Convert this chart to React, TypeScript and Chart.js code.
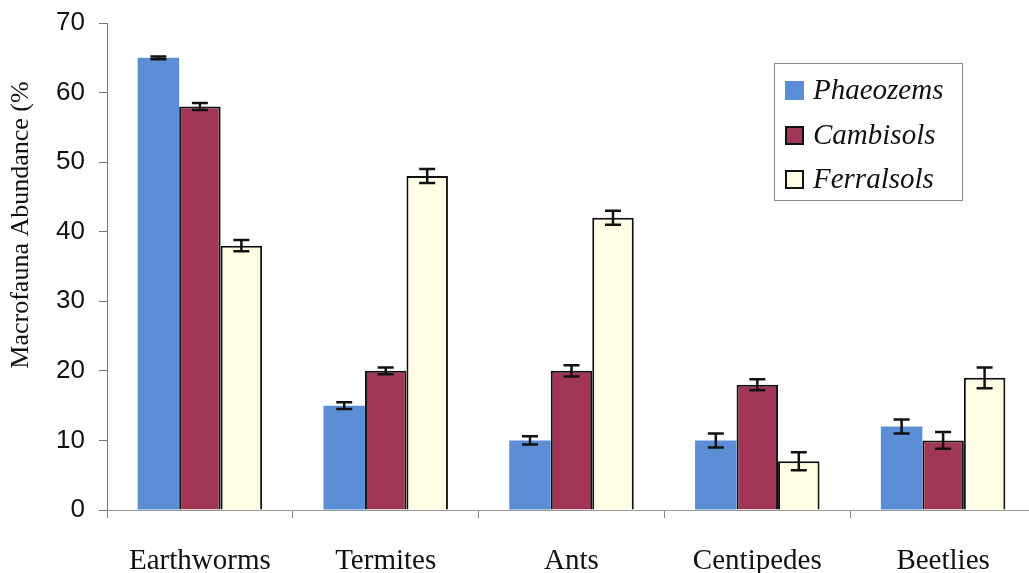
import React, { useEffect, useRef } from "react";
import { Chart, registerables } from "chart.js";

Chart.register(...registerables);

const categories = ["Earthworms", "Termites", "Ants", "Centipedes", "Beetlies"];
const seriesNames = ["Phaeozems", "Cambisols", "Ferralsols"];
const phaeozems = [65, 15, 10, 10, 12];
const cambisols = [58, 20, 20, 18, 10];
const ferralsols = [38, 48, 42, 7, 19];
const phaeozemsErr = [0.2, 0.5, 0.6, 1.0, 1.0];
const cambisolsErr = [0.5, 0.5, 0.8, 0.8, 1.2];
const ferralsolsErr = [0.8, 1.0, 1.0, 1.3, 1.5];
const yTicks = [0, 10, 20, 30, 40, 50, 60, 70];
const yTitle = "Macrofauna Abundance (%";

const colors = ["#5b8ed5", "#a13656", "#fffde4"];
const borders = ["#5b8ed5", "#111111", "#111111"];
const borderWidths = [0, 2, 2];
const errors = [phaeozemsErr, cambisolsErr, ferralsolsErr];

const errorBarPlugin = {
  id: "errorBars",
  afterDatasetsDraw(chart: any) {
    const ctx = chart.ctx;
    const yScale = chart.scales.y;
    ctx.save();
    ctx.strokeStyle = "#111";
    ctx.lineWidth = 2.5;
    chart.data.datasets.forEach((ds: any, di: number) => {
      const meta = chart.getDatasetMeta(di);
      meta.data.forEach((el: any, i: number) => {
        const v = ds.data[i];
        const e = errors[di][i];
        const yt = yScale.getPixelForValue(v + e);
        const yb = yScale.getPixelForValue(v - e);
        const x = el.x;
        const cap = 8;
        ctx.beginPath();
        ctx.moveTo(x, yt);
        ctx.lineTo(x, yb);
        ctx.moveTo(x - cap, yt);
        ctx.lineTo(x + cap, yt);
        ctx.moveTo(x - cap, yb);
        ctx.lineTo(x + cap, yb);
        ctx.stroke();
      });
    });
    ctx.restore();
  },
};

const decorPlugin = {
  id: "decor",
  afterDraw(chart: any) {
    const ctx = chart.ctx;
    ctx.save();
    ctx.translate(21, 225);
    ctx.rotate(-Math.PI / 2);
    ctx.font = '26px "Liberation Serif", "Times New Roman", serif';
    ctx.fillStyle = "#111";
    ctx.textAlign = "center";
    ctx.textBaseline = "middle";
    ctx.fillText(yTitle, 0, 0);
    ctx.restore();

    ctx.save();
    const lx = 774, ly = 63, lw = 188, lh = 137;
    ctx.fillStyle = "#ffffff";
    ctx.fillRect(lx, ly, lw, lh);
    ctx.strokeStyle = "#8a8a8a";
    ctx.lineWidth = 1;
    ctx.strokeRect(lx + 0.5, ly + 0.5, lw, lh);
    const rows = [90, 135, 179];
    ctx.font = 'italic 29px "Liberation Serif", "Times New Roman", serif';
    ctx.textBaseline = "middle";
    ctx.textAlign = "left";
    seriesNames.forEach((name, i) => {
      const cy = rows[i];
      ctx.fillStyle = colors[i];
      ctx.fillRect(785, cy - 9, 19, 19);
      if (borderWidths[i] > 0) {
        ctx.strokeStyle = "#111";
        ctx.lineWidth = 2;
        ctx.strokeRect(786, cy - 8, 17, 17);
      }
      ctx.fillStyle = "#111";
      ctx.fillText(name, 813, cy + 1);
    });
    ctx.restore();
  },
};

export default function App() {
  const ref = useRef<HTMLCanvasElement | null>(null);
  useEffect(() => {
    document.body.style.margin = "0";
    document.body.style.overflow = "hidden";
    const chart = new Chart(ref.current as HTMLCanvasElement, {
      type: "bar",
      data: {
        labels: categories,
        datasets: [phaeozems, cambisols, ferralsols].map((d, i) => ({
          label: seriesNames[i],
          data: d,
          backgroundColor: colors[i],
          borderColor: borders[i],
          borderWidth: borderWidths[i],
          categoryPercentage: 0.67,
          barPercentage: 1.0,
        })),
      },
      options: {
        animation: false,
        responsive: false,
        maintainAspectRatio: false,
        layout: { padding: { top: 23, right: 4, left: 0, bottom: 0 } },
        plugins: { legend: { display: false }, tooltip: { enabled: false } },
        scales: {
          x: {
            offset: true,
            grid: {
              offset: true,
              drawOnChartArea: false,
              drawTicks: true,
              tickLength: 8,
              color: "#888",
            },
            border: { display: true, color: "#999", width: 1 },
            ticks: {
              color: "#111",
              padding: 26,
              font: { family: '"Liberation Serif", "Times New Roman", serif', size: 29 },
            },
            afterFit(scale: any) {
              scale.height = 63;
              scale.paddingLeft = 0;
              scale.paddingRight = 0;
            },
          },
          y: {
            min: 0,
            max: 70,
            afterBuildTicks(scale: any) {
              scale.ticks = yTicks.map((v) => ({ value: v }));
            },
            grid: {
              drawOnChartArea: false,
              drawTicks: true,
              tickLength: 8,
              color: "#777",
            },
            border: { display: true, color: "#777", width: 1 },
            ticks: {
              color: "#111",
              padding: 14,
              font: { family: '"Liberation Sans", Arial, sans-serif', size: 26 },
            },
            afterFit(scale: any) {
              scale.width = 107;
              scale.paddingTop = 0;
              scale.paddingBottom = 0;
            },
          },
        },
      },
      plugins: [errorBarPlugin, decorPlugin],
    });
    return () => chart.destroy();
  }, []);
  return (
    <div style={{ width: 1040, height: 573 }}>
      <canvas ref={ref} width={1040} height={573} style={{ display: "block" }} />
    </div>
  );
}
